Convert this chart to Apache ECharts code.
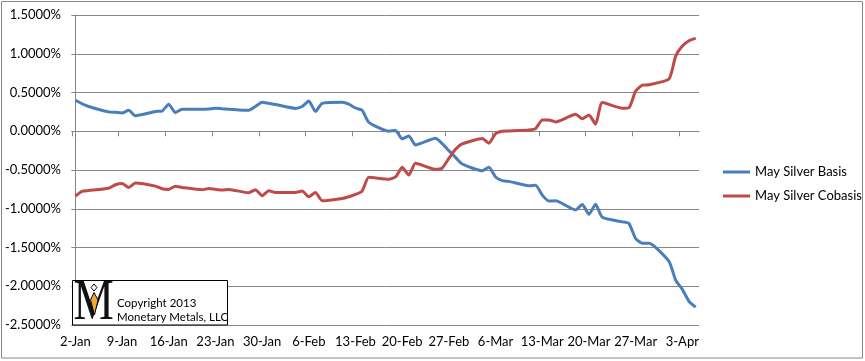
<!DOCTYPE html>
<html>
<head>
<meta charset="utf-8">
<script src="https://cdn.jsdelivr.net/npm/echarts@6/dist/echarts.min.js"></script>
<style>
html,body{margin:0;padding:0;background:#fff;}
#chart{width:865px;height:361px;}
</style>
</head>
<body>
<div id="chart"></div>
<script>
// Trading dates (weekdays) shown in the chart
const dates = [
 '2013-01-02','2013-01-03','2013-01-04','2013-01-07','2013-01-08','2013-01-09','2013-01-10','2013-01-11',
 '2013-01-14','2013-01-15','2013-01-16','2013-01-17','2013-01-18','2013-01-21','2013-01-22','2013-01-23',
 '2013-01-24','2013-01-25','2013-01-28','2013-01-29','2013-01-30','2013-01-31',
 '2013-02-01','2013-02-04','2013-02-05','2013-02-06','2013-02-07','2013-02-08','2013-02-11','2013-02-12',
 '2013-02-13','2013-02-14','2013-02-15','2013-02-18','2013-02-19','2013-02-20','2013-02-21','2013-02-22',
 '2013-02-25','2013-02-26','2013-02-27','2013-02-28',
 '2013-03-01','2013-03-04','2013-03-05','2013-03-06','2013-03-07','2013-03-08','2013-03-11','2013-03-12',
 '2013-03-13','2013-03-14','2013-03-15','2013-03-18','2013-03-19','2013-03-20','2013-03-21','2013-03-22',
 '2013-03-25','2013-03-26','2013-03-27','2013-03-28','2013-03-29',
 '2013-04-01','2013-04-02','2013-04-03','2013-04-04','2013-04-05'
];
// May Silver Basis (%)
const basis = [
 0.40, 0.355, 0.32, 0.25, 0.245, 0.235, 0.27, 0.20,
 0.255, 0.26, 0.35, 0.24, 0.285, 0.285, 0.288, 0.297,
 0.29, 0.285, 0.27, 0.32, 0.375, 0.36,
 0.345, 0.295, 0.32, 0.39, 0.255, 0.36, 0.375, 0.35,
 0.30, 0.27, 0.115, 0.0, 0.01, -0.10, -0.06, -0.177,
 -0.09, -0.16, -0.25, -0.337,
 -0.423, -0.51, -0.465, -0.59, -0.638, -0.647, -0.703, -0.698,
 -0.824, -0.90, -0.897, -1.015, -0.945, -1.072, -0.942, -1.11,
 -1.169, -1.19, -1.384, -1.445, -1.445,
 -1.68, -1.92, -2.04, -2.194, -2.27
];
// May Silver Cobasis (%)
const cobasis = [
 -0.835, -0.775, -0.765, -0.735, -0.69, -0.673, -0.725, -0.668,
 -0.708, -0.742, -0.75, -0.71, -0.725, -0.755, -0.738, -0.75,
 -0.759, -0.75, -0.794, -0.755, -0.833, -0.768,
 -0.79, -0.79, -0.772, -0.845, -0.79, -0.897, -0.867, -0.845,
 -0.815, -0.772, -0.595, -0.62, -0.59, -0.466, -0.565, -0.414,
 -0.491, -0.474, -0.349, -0.233,
 -0.164, -0.095, -0.155, -0.03, 0.0, 0.004, 0.017, 0.034,
 0.146, 0.146, 0.12, 0.22, 0.162, 0.21, 0.09, 0.37,
 0.297, 0.303, 0.518, 0.595, 0.599,
 0.674, 0.97, 1.10, 1.168, 1.202
];
const seriesNames = ['May Silver Basis', 'May Silver Cobasis'];
const xTickLabels = ['2-Jan','9-Jan','16-Jan','23-Jan','30-Jan','6-Feb','13-Feb','20-Feb','27-Feb','6-Mar','13-Mar','20-Mar','27-Mar','3-Apr'];
const yMin = -2.5, yMax = 1.5, yStep = 0.5;

const MONTHS = ['Jan','Feb','Mar','Apr','May','Jun','Jul','Aug','Sep','Oct','Nov','Dec'];
const DAY = 86400000;
const origin = Date.UTC(2013, 0, 2);
function dayIndexISO(s) {
  const p = s.split('-');
  return Math.round((Date.UTC(+p[0], +p[1] - 1, +p[2]) - origin) / DAY);
}
function dayIndexLabel(s) {
  const p = s.split('-');
  return Math.round((Date.UTC(2013, MONTHS.indexOf(p[1]), +p[0]) - origin) / DAY);
}
const xDays = dates.map(dayIndexISO);
const labelPos = xTickLabels.map(dayIndexLabel);
const labelMap = {};
labelPos.forEach((v, i) => { labelMap[v] = xTickLabels[i]; });
const tickPos = labelPos.map(v => v - 0.5);
const xMin = xDays[0] - 0.5, xMax = xDays[xDays.length - 1] + 0.5;

const FONT = 'Lato';
const GRID = '#878787';

const chart = echarts.init(document.getElementById('chart'), null, {renderer: 'canvas'});
chart.setOption({
  animation: false,
  backgroundColor: '#ffffff',
  textStyle: {fontFamily: FONT},
  grid: {left: 72, top: 15, width: 627, height: 310, containLabel: false},
  xAxis: {
    type: 'value', min: xMin, max: xMax,
    splitLine: {show: false},
    axisLine: {show: true, lineStyle: {color: GRID, width: 1}},
    axisTick: {show: true, customValues: tickPos, length: 5, inside: false, lineStyle: {color: GRID}},
    axisLabel: {customValues: labelPos, formatter: v => labelMap[v] || '', color: '#000', fontSize: 13, fontFamily: FONT, margin: 10}
  },
  yAxis: {
    type: 'value', min: yMin, max: yMax, interval: yStep,
    splitLine: {show: true, lineStyle: {color: GRID, width: 1}},
    axisLine: {show: true, lineStyle: {color: GRID, width: 1}},
    axisTick: {show: true, length: 4, lineStyle: {color: GRID}},
    axisLabel: {formatter: v => v.toFixed(4) + '%', color: '#000', fontSize: 13, fontFamily: FONT, margin: 11}
  },
  legend: {
    orient: 'vertical', left: 718, top: 160,
    itemWidth: 27, itemHeight: 3, itemGap: 10, icon: 'rect',
    textStyle: {color: '#000', fontSize: 13, fontFamily: FONT, lineHeight: 14},
    data: seriesNames
  },
  series: [
    {name: seriesNames[0], type: 'line', data: xDays.map((d, i) => [d, basis[i]]),
     showSymbol: false, symbol: 'none', smooth: 0.18,
     lineStyle: {color: '#4a7ebb', width: 3}, itemStyle: {color: '#4a7ebb'}},
    {name: seriesNames[1], type: 'line', data: xDays.map((d, i) => [d, cobasis[i]]),
     showSymbol: false, symbol: 'none', smooth: 0.18,
     lineStyle: {color: '#be4b48', width: 3}, itemStyle: {color: '#be4b48'}}
  ],
  graphic: [
    {type: 'rect', z: 100, silent: true, shape: {x: 1.5, y: 1.5, width: 861, height: 356.5},
     style: {fill: 'none', stroke: '#868686', lineWidth: 1}},
    {type: 'rect', z: 100, silent: true, shape: {x: 72.5, y: 280.5, width: 155, height: 44.5},
     style: {fill: '#ffffff', stroke: '#000000', lineWidth: 1}},
    {type: 'text', z: 101, silent: true, x: 93.5, y: 304,
     style: {text: 'M', font: '58px "Liberation Serif"', fill: '#111', align: 'center', verticalAlign: 'middle'},
     scaleX: 0.78, originX: 0, originY: 0},
    {type: 'polygon', z: 102, silent: true,
     shape: {points: [[94, 284], [97, 287.5], [94, 291], [91, 287.5]]},
     style: {fill: '#ffffff', stroke: '#000', lineWidth: 1}},
    {type: 'polygon', z: 102, silent: true,
     shape: {points: [[94, 292.5], [98, 300], [94.5, 315], [90.5, 300]]},
     style: {fill: '#f2a93b', stroke: '#000', lineWidth: 1}},
    {type: 'text', z: 101, silent: true, x: 117, y: 303,
     style: {text: 'Copyright 2013', font: '11.5px Lato', fill: '#000', verticalAlign: 'middle'}},
    {type: 'text', z: 101, silent: true, x: 117, y: 317,
     style: {text: 'Monetary Metals, LLC', font: '11.5px Lato', fill: '#000', verticalAlign: 'middle'}}
  ]
});
</script>
</body>
</html>
